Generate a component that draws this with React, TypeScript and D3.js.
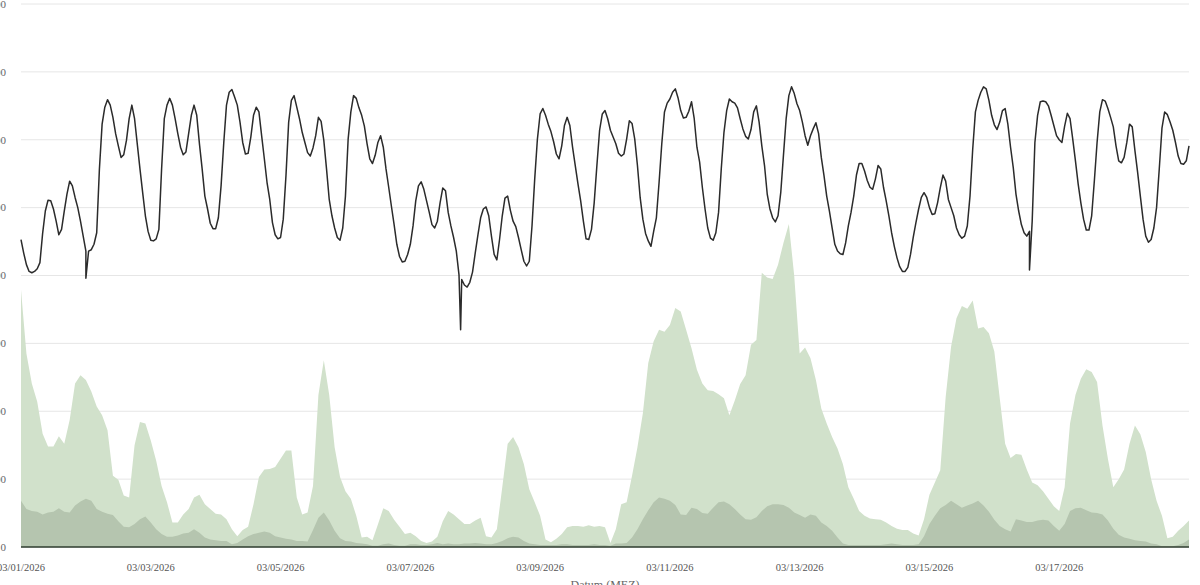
import * as d3 from "d3";
import * as React from "react";

// hourly load (GW) from 03/01/2026 00:00, 433 values
const loadGW = [
  45.3, 43.3, 41.6, 40.6, 40.4, 40.6, 41.0, 41.9, 46.2, 49.5, 51.1, 51.0, 49.8, 48.0, 46.0, 46.8, 49.5, 52.0, 53.9, 53.2, 51.5, 50.0, 48.0, 45.8,
  43.6, 43.6, 43.8, 44.6, 46.3, 55.7, 62.3, 64.8, 65.9, 65.1, 63.3, 60.9, 59.1, 57.4, 57.8, 59.9, 63.1, 65.1, 63.1, 59.4, 55.7, 52.2, 48.8, 46.5,
  45.2, 45.1, 45.4, 46.8, 55.7, 63.1, 65.1, 66.1, 65.1, 63.1, 60.9, 58.9, 57.8, 58.2, 60.9, 63.6, 65.1, 63.6, 59.4, 55.7, 51.7, 49.8, 47.7, 46.9,
  46.9, 48.5, 53.2, 59.6, 65.1, 67.0, 67.4, 66.3, 65.1, 62.6, 59.6, 57.9, 58.0, 60.4, 63.6, 64.8, 64.1, 60.6, 57.2, 53.7, 51.2, 47.8, 46.0, 45.4,
  45.6, 48.3, 54.7, 62.6, 65.8, 66.5, 64.8, 63.1, 61.1, 59.6, 58.1, 57.6, 58.8, 60.6, 63.3, 62.7, 59.9, 55.7, 51.2, 48.8, 47.0, 45.6, 45.2, 47.0,
  51.7, 60.1, 64.1, 66.5, 66.1, 64.7, 63.6, 62.0, 59.4, 57.2, 56.5, 57.7, 59.6, 60.6, 58.9, 55.7, 53.0, 50.2, 47.5, 44.6, 42.8, 42.0, 42.1, 43.1,
  44.6, 47.3, 51.0, 53.2, 53.8, 52.7, 51.0, 49.3, 47.5, 47.0, 48.0, 50.7, 52.9, 52.5, 49.3, 47.3, 45.6, 43.6, 40.1, 39.4, 38.6, 38.3, 39.0, 40.5,
  43.3, 46.0, 48.5, 49.8, 50.1, 48.8, 45.8, 43.1, 42.3, 45.3, 48.8, 51.4, 51.7, 49.6, 48.0, 47.2, 45.6, 43.8, 42.1, 41.4, 42.1, 47.3, 54.2, 60.1,
  63.8, 64.6, 63.6, 62.3, 61.2, 59.7, 57.9, 57.2, 59.1, 62.1, 63.3, 62.1, 58.9, 56.2, 53.5, 51.0, 48.0, 45.4, 45.3, 46.8, 50.7, 56.2, 61.4, 63.8,
  64.3, 63.1, 61.4, 60.4, 59.4, 58.0, 57.6, 57.9, 60.1, 62.8, 62.4, 60.1, 56.2, 51.5, 48.3, 46.2, 45.1, 44.3, 46.5, 48.5, 53.7, 59.4, 64.1, 65.4,
  66.0, 67.0, 67.5, 66.2, 64.3, 63.2, 63.3, 64.2, 65.6, 63.1, 58.9, 56.7, 53.0, 49.8, 47.0, 45.5, 45.2, 46.3, 49.3, 55.7, 61.1, 64.3, 66.0, 65.6,
  65.4, 64.7, 63.1, 61.6, 60.5, 60.1, 61.5, 64.1, 65.0, 62.6, 59.1, 56.2, 52.0, 49.8, 48.5, 47.9, 48.8, 52.2, 57.7, 63.1, 66.5, 67.8, 66.8, 65.3,
  64.3, 62.6, 60.6, 59.2, 60.6, 61.6, 62.5, 60.9, 57.4, 54.7, 51.7, 49.5, 47.0, 44.6, 43.6, 43.2, 43.1, 44.8, 47.3, 49.3, 51.7, 54.8, 56.5, 56.5,
  55.4, 54.0, 53.0, 52.7, 54.2, 56.2, 55.7, 53.0, 51.0, 48.8, 46.3, 44.3, 42.6, 41.3, 40.6, 40.6, 41.2, 43.1, 45.6, 47.8, 49.8, 51.5, 52.2, 51.5,
  50.0, 49.0, 49.1, 50.7, 52.9, 54.8, 53.9, 51.2, 50.0, 48.8, 47.0, 46.0, 45.5, 45.8, 47.3, 51.7, 58.6, 64.1, 65.8, 67.0, 67.8, 67.5, 65.8, 63.6,
  62.2, 61.5, 62.6, 64.3, 64.6, 62.3, 58.9, 55.9, 52.0, 49.5, 47.5, 46.3, 45.8, 46.5, 48.0, 59.6, 63.6, 65.6, 65.7, 65.6, 65.0, 63.6, 62.1, 60.6,
  60.0, 59.6, 62.0, 63.9, 63.1, 60.1, 56.9, 53.5, 50.7, 48.3, 46.7, 46.7, 48.8, 54.0, 59.6, 64.1, 65.9, 65.7, 64.6, 63.3, 61.9, 59.1, 56.9, 56.6,
  57.4, 59.6, 62.3, 61.9, 58.4, 55.2, 51.7, 48.3, 45.8, 44.9, 45.3, 47.0, 50.0, 55.7, 61.7, 64.1, 63.7, 62.6, 61.4, 59.6, 57.6, 56.5, 56.4, 56.9,
  59.1,
];

// short drops in the load line: [hour, GW]
const loadSpikes: [number, number][] = [[24, 39.6], [162.6, 32.0], [373, 40.8]];

// wind, every 2 hours (GW), 217 values
const windTotalGW = [
  37.9, 28.5, 24.1, 21.4, 16.7, 14.8, 14.8, 16.3, 15.2, 18.7, 24.1, 25.3,
  24.6, 22.9, 20.7, 19.4, 17.2, 10.5, 9.9, 7.6, 7.3, 15.0, 18.4, 18.2,
  15.7, 12.7, 9.0, 6.6, 3.6, 3.6, 4.8, 5.6, 7.3, 7.7, 6.3, 5.6,
  4.9, 4.8, 4.1, 2.6, 1.6, 2.5, 3.0, 6.3, 10.3, 11.4, 11.5, 11.8,
  13.0, 14.2, 14.2, 7.3, 4.8, 5.1, 9.0, 22.4, 27.5, 22.4, 14.7, 10.3,
  8.2, 7.1, 4.6, 1.4, 1.5, 1.0, 3.3, 5.7, 5.3, 4.0, 3.0, 1.9,
  2.1, 1.6, 0.9, 0.6, 0.8, 1.5, 3.8, 5.3, 4.8, 4.1, 3.4, 3.4,
  3.9, 4.3, 1.6, 1.4, 2.6, 8.8, 15.2, 16.2, 14.7, 12.2, 8.5, 6.6,
  4.6, 1.1, 0.7, 1.2, 1.9, 2.9, 3.1, 3.1, 3.0, 3.2, 3.0, 3.1,
  2.9, 0.6, 2.6, 6.3, 6.6, 10.5, 14.7, 19.7, 27.1, 30.3, 32.0, 31.7,
  32.7, 35.2, 34.7, 32.0, 29.3, 26.1, 24.1, 23.1, 23.0, 22.5, 21.9, 19.4,
  21.6, 24.0, 25.3, 29.8, 30.5, 40.4, 39.7, 39.5, 41.6, 44.8, 47.6, 39.9,
  28.5, 29.4, 27.8, 24.6, 20.4, 18.2, 16.2, 14.5, 12.2, 8.8, 7.1, 5.3,
  4.6, 4.2, 4.1, 4.0, 3.6, 3.1, 2.7, 2.5, 2.5, 2.0, 1.7, 4.1,
  7.7, 9.5, 11.3, 22.1, 29.5, 33.7, 35.5, 35.1, 36.3, 32.2, 32.4, 31.5,
  28.8, 21.9, 15.2, 13.1, 13.7, 13.6, 11.4, 9.5, 9.1, 8.2, 7.1, 6.0,
  5.3, 8.8, 18.2, 22.4, 24.8, 26.2, 25.8, 24.3, 17.9, 13.0, 8.8, 10.0,
  11.4, 15.2, 17.9, 16.6, 14.0, 10.0, 6.8, 4.6, 1.3, 1.5, 2.4, 3.1,
  3.9,
];

const windOffshoreGW = [
  6.8, 5.6, 5.3, 5.2, 4.8, 5.1, 5.2, 5.7, 5.2, 5.1, 6.1, 6.7,
  7.1, 6.8, 5.6, 5.2, 4.9, 4.7, 3.8, 3.0, 2.9, 3.4, 4.1, 4.5,
  3.6, 2.6, 1.9, 1.5, 1.5, 1.7, 2.0, 2.1, 2.6, 2.1, 1.4, 1.1,
  1.0, 0.9, 0.9, 0.4, 0.6, 1.1, 1.6, 1.9, 2.1, 2.3, 2.1, 1.6,
  1.4, 1.2, 1.1, 0.9, 0.9, 0.8, 2.5, 4.3, 5.1, 3.9, 2.4, 1.3,
  0.9, 0.8, 0.6, 0.5, 0.4, 0.2, 0.2, 0.4, 0.5, 0.3, 0.2, 0.2,
  0.4, 0.4, 0.3, 0.3, 0.4, 0.6, 0.4, 0.5, 0.4, 0.4, 0.5, 0.5,
  0.6, 0.5, 0.4, 0.4, 0.6, 0.9, 1.3, 1.5, 1.4, 0.9, 0.5, 0.4,
  0.3, 0.3, 0.3, 0.3, 0.4, 0.4, 0.3, 0.3, 0.3, 0.3, 0.4, 0.3,
  0.3, 0.2, 0.5, 0.5, 0.6, 1.4, 2.6, 4.1, 5.4, 6.6, 7.3, 7.1,
  6.8, 6.2, 4.8, 4.7, 5.8, 5.6, 5.0, 4.9, 5.8, 6.6, 6.7, 6.3,
  5.6, 4.8, 4.1, 4.0, 4.4, 5.3, 6.0, 6.3, 6.3, 6.2, 5.8, 5.1,
  4.7, 4.3, 4.8, 4.6, 3.6, 3.1, 2.4, 1.4, 0.5, 0.3, 0.3, 0.3,
  0.3, 0.3, 0.3, 0.3, 0.4, 0.5, 0.4, 0.3, 0.3, 0.3, 0.4, 1.6,
  3.4, 4.6, 5.7, 6.2, 6.8, 6.3, 5.8, 6.1, 6.4, 6.8, 6.1, 5.2,
  4.0, 3.1, 2.6, 2.3, 4.1, 3.9, 3.7, 3.7, 3.9, 4.0, 3.9, 3.1,
  2.4, 3.4, 5.3, 5.7, 5.8, 5.4, 5.1, 5.0, 4.8, 3.9, 2.7, 1.8,
  1.4, 1.2, 1.0, 0.9, 0.8, 0.5, 0.4, 0.1, 0.1, 0.1, 0.3, 0.6,
  1.1,
];

const yTicks = [0, 10000, 20000, 30000, 40000, 50000, 60000, 70000, 80000];
const xTickLabels = ["03/01/2026", "03/03/2026", "03/05/2026", "03/07/2026", "03/09/2026", "03/11/2026", "03/13/2026", "03/15/2026", "03/17/2026"];
const xAxisTitle = "Datum (MEZ)";

const W = 1200;
const H = 585;
const left = 21;
const right = 1189;
const top = 4;
const bottom = 547;
const FONT = "'Liberation Serif', 'DejaVu Serif', serif";

const start = Date.UTC(2026, 2, 1);
const HOUR = 3600e3;

export default function App(): JSX.Element {
  const x = d3.scaleUtc()
    .domain([new Date(start), new Date(start + 432 * HOUR)])
    .range([left, right]);
  const y = d3.scaleLinear().domain([0, 80000]).range([bottom, top]);

  type Pt = [number, number];
  const loadPts: Pt[] = loadGW.map((v, i) => [i, v] as Pt);
  loadSpikes.forEach(s => loadPts.push(s));
  loadPts.sort((a, b) => a[0] - b[0]);

  const line = d3.line<Pt>()
    .x(d => x(new Date(start + d[0] * HOUR)))
    .y(d => y(d[1] * 1000));

  const area = d3.area<number>()
    .x((_, i) => x(new Date(start + i * 2 * HOUR)))
    .y0(y(0))
    .y1(d => y(d * 1000));

  const tickDates = xTickLabels.map(s => d3.utcParse("%m/%d/%Y")(s) as Date);

  return (
    <svg width={W} height={H} style={{ position: "absolute", left: 0, top: 0, background: "#fff" }}>
      {yTicks.map(t => (
        <g key={t}>
          <line x1={left} x2={right} y1={y(t)} y2={y(t)} stroke="#e6e6e6" strokeWidth={1} />
          <text x={6} y={y(t)} dy="0.35em" textAnchor="end" fontFamily={FONT} fontSize={11} fill="#666">
            {d3.format(",")(t).replace(/,/g, ".")}
          </text>
        </g>
      ))}
      <path d={area(windTotalGW) ?? ""} fill="#d1e1cb" />
      <path d={area(windOffshoreGW) ?? ""} fill="#b5c5af" />
      <line x1={left} x2={right} y1={bottom} y2={bottom} stroke="#2f3d2f" strokeWidth={1.5} />
      <path d={line(loadPts) ?? ""} fill="none" stroke="#2b2b2b" strokeWidth={1.5} strokeLinejoin="round" />
      {tickDates.map((d, i) => (
        <text key={i} x={x(d)} y={571} textAnchor="middle" fontFamily={FONT} fontSize={10.5} fill="#555">
          {xTickLabels[i]}
        </text>
      ))}
      <text x={(left + right) / 2} y={589} textAnchor="middle" fontFamily={FONT} fontSize={12} fill="#666">
        {xAxisTitle}
      </text>
    </svg>
  );
}
